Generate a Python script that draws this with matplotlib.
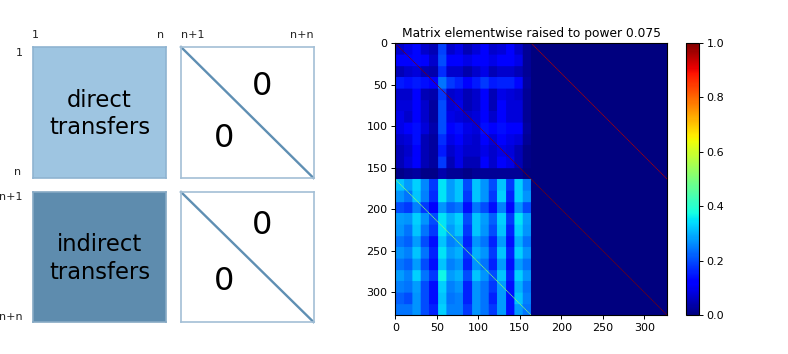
import numpy as np
import matplotlib
matplotlib.use("Agg")
import matplotlib.pyplot as plt

MATRIX_SIZE = 328
BLOCK_SIZE = 164
COLORBAR_TICKS = [0.0, 0.2, 0.4, 0.6, 0.8, 1.0]
MATRIX_TICKS = [0, 50, 100, 150, 200, 250, 300]

# Coarse estimates of the local mean colour value.
# Rows run top to bottom, columns left to right, across the left half of the matrix.
direct_block = [
    [.07,.09,.13,.07,.05,.19,.07,.09,.05,.08,.11,.07,.08,.12,.07,.02],
    [.11,.11,.13,.11,.07,.20,.11,.12,.09,.11,.11,.09,.12,.12,.09,.02],
    [.05,.07,.08,.05,.04,.17,.07,.07,.04,.07,.09,.05,.07,.07,.05,.02],
    [.15,.14,.15,.14,.11,.24,.18,.16,.12,.15,.18,.15,.16,.16,.13,.03],
    [.07,.07,.12,.05,.04,.18,.07,.08,.05,.07,.11,.05,.09,.08,.07,.02],
    [.08,.08,.12,.07,.03,.20,.08,.09,.05,.07,.11,.05,.12,.08,.08,.02],
    [.09,.07,.11,.07,.03,.20,.09,.08,.07,.08,.12,.07,.11,.08,.08,.02],
    [.09,.11,.14,.08,.04,.20,.12,.14,.09,.08,.14,.11,.14,.11,.11,.03],
    [.07,.08,.14,.05,.03,.17,.09,.11,.08,.07,.11,.08,.11,.09,.08,.02],
    [.05,.07,.11,.05,.03,.15,.07,.09,.07,.07,.09,.07,.09,.08,.05,.01],
    [.05,.08,.12,.05,.03,.18,.05,.09,.05,.05,.11,.07,.11,.09,.05,.01],
    [.01,.02,.03,.01,.01,.04,.02,.02,.01,.02,.02,.02,.02,.02,.02,.00],
]
indirect_block = [
    [.32,.28,.33,.26,.18,.35,.28,.32,.20,.32,.27,.20,.32,.18,.33,.25],
    [.27,.24,.32,.25,.17,.35,.28,.32,.18,.32,.27,.18,.33,.16,.33,.27],
    [.20,.18,.25,.18,.12,.27,.22,.24,.14,.24,.20,.14,.25,.13,.27,.20],
    [.28,.27,.33,.27,.20,.35,.30,.33,.20,.32,.28,.22,.33,.18,.35,.28],
    [.27,.24,.32,.24,.18,.35,.28,.32,.18,.32,.27,.20,.32,.16,.33,.27],
    [.24,.22,.28,.20,.14,.32,.25,.27,.16,.27,.24,.16,.28,.14,.30,.24],
    [.27,.25,.32,.24,.16,.35,.28,.30,.18,.30,.27,.18,.32,.16,.33,.27],
    [.24,.22,.28,.20,.14,.32,.25,.27,.16,.27,.24,.16,.28,.14,.28,.24],
    [.28,.25,.33,.24,.18,.37,.28,.30,.20,.32,.27,.20,.32,.16,.33,.27],
    [.25,.24,.28,.20,.14,.33,.25,.27,.16,.27,.24,.18,.28,.14,.30,.24],
    [.22,.20,.27,.20,.14,.32,.24,.25,.16,.27,.24,.16,.28,.14,.32,.25],
    [.24,.24,.27,.20,.16,.33,.25,.25,.18,.27,.24,.18,.28,.14,.28,.24],
]
# Estimated colour value along each of the four diagonals.
diag_direct = 1.0
diag_upper_right = 0.95
diag_indirect = 0.5
diag_lower_right = 1.0

matrix = np.zeros((MATRIX_SIZE, MATRIX_SIZE))
for grid, row_offset in ((direct_block, 0), (indirect_block, BLOCK_SIZE)):
    g = np.array(grid)
    r_idx = np.arange(BLOCK_SIZE) * g.shape[0] // BLOCK_SIZE
    c_idx = np.arange(BLOCK_SIZE) * g.shape[1] // BLOCK_SIZE
    matrix[row_offset:row_offset + BLOCK_SIZE, :BLOCK_SIZE] = g[np.ix_(r_idx, c_idx)]
idx = np.arange(BLOCK_SIZE)
matrix[idx, idx] = diag_direct
matrix[idx, idx + BLOCK_SIZE] = diag_upper_right
matrix[idx + BLOCK_SIZE, idx] = diag_indirect
matrix[idx + BLOCK_SIZE, idx + BLOCK_SIZE] = diag_lower_right

W, H = 788, 354
fig = plt.figure(figsize=(W / 100, H / 100), dpi=100)


def px_axes(x0, y0, x1, y1):
    return fig.add_axes([x0 / W, 1 - y1 / H, (x1 - x0) / W, (y1 - y0) / H])


EDGE = "#a3bfd6"
LINE = "#5f8fb3"
panels = [
    ((33, 47, 166, 178), "#9ec5e1", "#8fb4d1", "direct\ntransfers", None),
    ((181, 47, 313.5, 178), "white", EDGE, None, ((0.615, 0.695), (0.325, 0.305))),
    ((33, 192, 166, 322), "#5e8cae", "#86a9c4", "indirect\ntransfers", None),
    ((181, 192, 313.5, 322), "white", EDGE, None, ((0.615, 0.74), (0.325, 0.315))),
]
for box, color, edge, label, zeros in panels:
    ax = px_axes(*box)
    ax.set_facecolor(color)
    ax.set_xticks([])
    ax.set_yticks([])
    for s in ax.spines.values():
        s.set_color(edge)
        s.set_linewidth(1.2)
    if label is None:
        ax.plot([0, 1], [1, 0], color=LINE, lw=1.7, transform=ax.transAxes, clip_on=False)
        for zx, zy in zeros:
            ax.text(zx, zy, "0", fontsize=23, ha="center", va="center", transform=ax.transAxes)
    else:
        ax.text(0.5, 0.49, label, fontsize=16.3, ha="center", va="center", linespacing=1.25,
                transform=ax.transAxes, color="black")

overlay = fig.add_axes([0, 0, 1, 1])
overlay.set_xlim(0, W)
overlay.set_ylim(H, 0)
overlay.axis("off")
overlay.patch.set_alpha(0)
LAB = dict(fontsize=8, color="#222222", va="center")
for x, y, s, ha in [
    (35.5, 34.5, "1", "center"), (161, 34.5, "n", "center"),
    (181, 34.5, "n+1", "left"), (314, 34.5, "n+n", "right"),
    (23, 53, "1", "right"), (21, 172, "n", "right"),
    (22.5, 197, "n+1", "right"), (22.5, 317, "n+n", "right"),
]:
    overlay.text(x, y, s, ha=ha, **LAB)

ax = px_axes(395, 43, 667, 315)
im = ax.imshow(matrix, cmap="jet", vmin=0, vmax=1, aspect="equal")
ax.set_title("Matrix elementwise raised to power 0.075", fontsize=8.8, pad=4)
ax.set_xticks(MATRIX_TICKS)
ax.set_yticks(MATRIX_TICKS)
ax.tick_params(labelsize=8, length=3, width=0.7, pad=2.5)

cax = px_axes(686, 43, 699, 315)
cb = fig.colorbar(im, cax=cax, ticks=COLORBAR_TICKS)
cb.ax.tick_params(labelsize=8, length=3, width=0.7, pad=2.5)

fig.savefig("out.png", dpi=100)
